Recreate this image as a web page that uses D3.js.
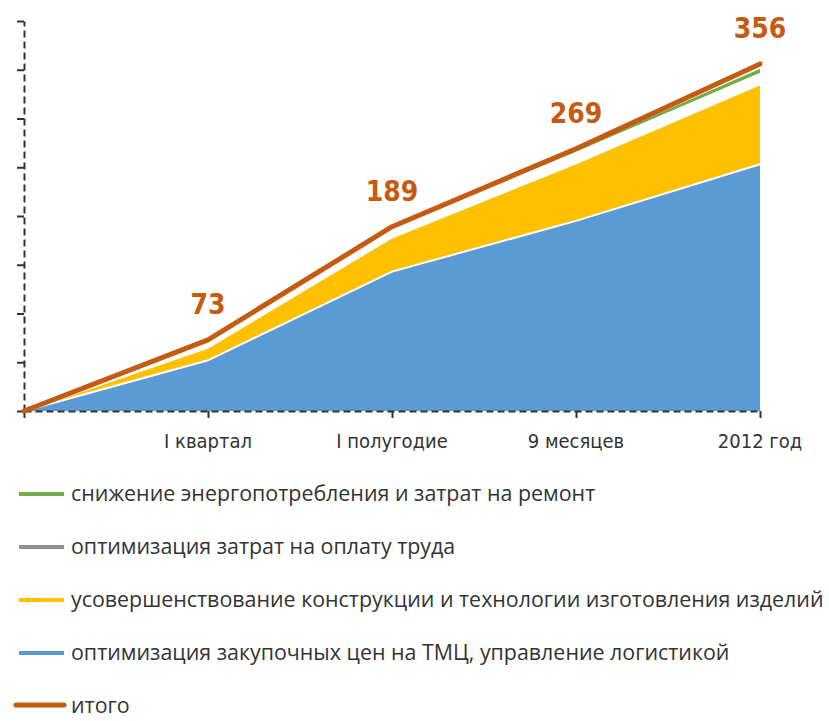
<!DOCTYPE html>
<html>
<head>
<meta charset="utf-8">
<script src="https://cdn.jsdelivr.net/npm/d3@7"></script>
<style>
  body { margin: 0; background: #fff; }
  .axis-label { font-family: "Liberation Sans Narrow", "DejaVu Sans Condensed", "Roboto", sans-serif; }
  .legend text { font-family: "Open Sans", "Noto Sans", sans-serif; }
</style>
</head>
<body>
<svg id="chart" width="829" height="721"></svg>
<script>
// periods (first one is the origin, no label)
const periods = ["", "I квартал", "I полугодие", "9 месяцев", "2012 год"];

// stacked series, cumulative savings
const purchasing = [0, 52, 143, 195, 253];   // оптимизация закупочных цен
const design     = [0, 13, 35, 59, 82];      // усовершенствование конструкции
const labour     = [0, 6, 9, 12, 12];        // оптимизация затрат на оплату труда
const energy     = [0, 1, 1, 2, 4];          // снижение энергопотребления
const total      = [0, 73, 189, 269, 356];   // итого

const yTicks = [0, 50, 100, 150, 200, 250, 300, 350, 400];

const seriesNames = [
  "снижение энергопотребления и затрат на ремонт",
  "оптимизация затрат на оплату труда",
  "усовершенствование конструкции и технологии изготовления изделий",
  "оптимизация закупочных цен на ТМЦ, управление логистикой",
  "итого"
];
const legendColors = ["#70ad47", "#8f8f8f", "#ffc000", "#5b9bd5", "#c55a11"];

const svg = d3.select("#chart");

const x = d3.scalePoint().domain(periods).range([24, 760]);
const y = d3.scaleLinear().domain([0, 400]).range([411, 21]);

// build stack table
const table = periods.map((p, i) => ({
  period: p,
  purchasing: purchasing[i],
  design: design[i],
  labour: labour[i],
  energy: energy[i]
}));
const keys = ["purchasing", "design", "labour", "energy"];
const fills = { purchasing: "#5b9bd5", design: "#ffc000", labour: "#ffffff", energy: "#70ad47" };
const stacked = d3.stack().keys(keys)(table);

const area = d3.area()
  .x(d => x(d.data.period))
  .y0(d => y(d[0]))
  .y1(d => y(d[1]));

svg.append("g").selectAll("path")
  .data(stacked)
  .enter().append("path")
  .attr("d", area)
  .attr("fill", d => fills[d.key]);

// thin white edges between bands
const edge = d3.line()
  .x(d => x(d.data.period))
  .y(d => y(d[1]));
svg.append("g").selectAll("path")
  .data(stacked.slice(0, 2))
  .enter().append("path")
  .attr("d", edge)
  .attr("fill", "none")
  .attr("stroke", "#fff")
  .attr("stroke-width", 2);

// axes
const yAxis = d3.axisLeft(y).tickValues(yTicks).tickSize(7).tickSizeOuter(0).tickFormat("");
const gy = svg.append("g").attr("transform", "translate(24,0)").call(yAxis);

const xAxis = d3.axisBottom(x).tickSize(7).tickSizeOuter(0).tickFormat("");
const gx = svg.append("g").attr("transform", "translate(0,411)").call(xAxis);

[gx, gy].forEach(g => {
  g.select(".domain").attr("stroke", "#333").attr("stroke-width", 2).attr("stroke-dasharray", "7,4");
  g.selectAll(".tick line").attr("stroke", "#333").attr("stroke-width", 2);
});

// x labels
svg.append("g").selectAll("text")
  .data(periods.slice(1))
  .enter().append("text")
  .attr("class", "axis-label")
  .attr("x", d => x(d))
  .attr("y", 448)
  .attr("text-anchor", "middle")
  .attr("font-size", 20)
  .attr("fill", "#333")
  .text(d => d);

// total line
const totalLine = d3.line()
  .x((d, i) => x(periods[i]))
  .y(d => y(d));
svg.append("path")
  .datum(total)
  .attr("d", totalLine)
  .attr("fill", "none")
  .attr("stroke", "#c55a11")
  .attr("stroke-width", 5)
  .attr("stroke-linecap", "round")
  .attr("stroke-linejoin", "round");

// total value labels
svg.append("g").selectAll("text")
  .data(total.slice(1))
  .enter().append("text")
  .attr("class", "axis-label")
  .attr("x", (d, i) => x(periods[i + 1]))
  .attr("y", d => y(d) - 26)
  .attr("text-anchor", "middle")
  .attr("font-size", 28)
  .attr("font-weight", "bold")
  .attr("fill", "#c55a11")
  .text(d => d);

// legend
const legend = svg.append("g").attr("class", "legend");
const item = legend.selectAll("g")
  .data(seriesNames)
  .enter().append("g")
  .attr("transform", (d, i) => "translate(0," + (494 + i * 53) + ")");

item.append("line")
  .attr("x1", (d, i) => i === 4 ? 16 : 19)
  .attr("x2", 64)
  .attr("y1", (d, i) => i === 4 ? -1 : 0)
  .attr("y2", (d, i) => i === 4 ? -1 : 0)
  .attr("stroke", (d, i) => legendColors[i])
  .attr("stroke-width", (d, i) => i === 4 ? 5 : 4)
  .attr("stroke-linecap", (d, i) => i === 4 ? "round" : "butt");

item.append("text")
  .attr("x", 71)
  .attr("y", 7)
  .attr("font-size", 21.4)
  .attr("fill", "#333")
  .text(d => d);
</script>
</body>
</html>
